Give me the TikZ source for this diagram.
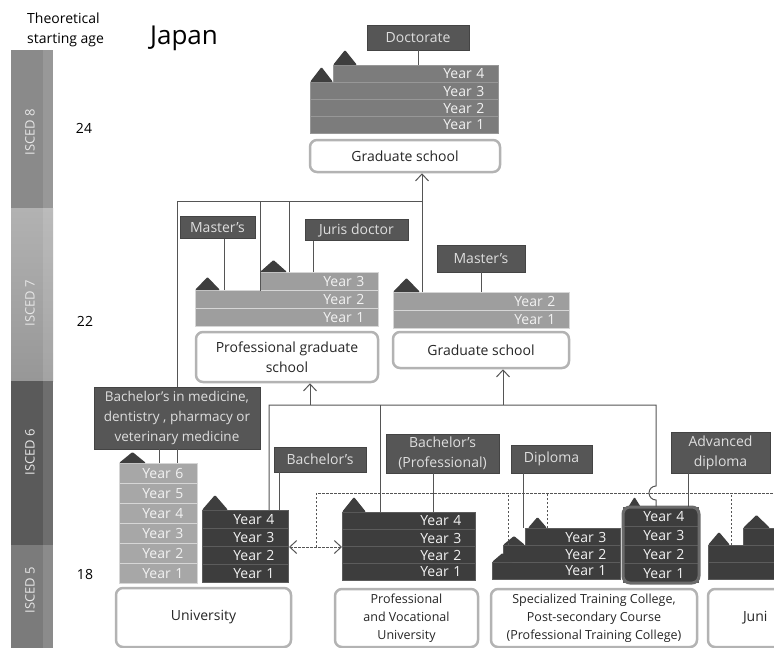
\documentclass[tikz,border=0pt]{standalone}
\usepackage{fontspec}
\setmainfont{Open Sans}
\usetikzlibrary{arrows.meta}

\definecolor{isced8}{HTML}{8A8A8A}
\definecolor{isced7top}{HTML}{B2B2B2}
\definecolor{isced7bot}{HTML}{979797}
\definecolor{isced6}{HTML}{5A5A5A}
\definecolor{isced5}{HTML}{7B7B7B}
\definecolor{bandtext}{HTML}{E6E6E6}
\definecolor{docfill}{HTML}{7C7C7C}
\definecolor{docline}{HTML}{979797}
\definecolor{pgfill}{HTML}{9E9E9E}
\definecolor{pgline}{HTML}{D6D6D6}
\definecolor{medfill}{HTML}{A7A7A7}
\definecolor{darkfill}{HTML}{3D3D3D}
\definecolor{darkline}{HTML}{5C5C5C}
\definecolor{rowtext}{HTML}{F2F2F2}
\definecolor{roofcol}{HTML}{3E3E3E}
\definecolor{degfill}{HTML}{565656}
\definecolor{degline}{HTML}{444444}
\definecolor{degtext}{HTML}{DEDEDE}
\definecolor{boxline}{HTML}{B3B3B3}
\definecolor{advline}{HTML}{6B6B6B}
\definecolor{linecol}{HTML}{555555}

\begin{document}
\begin{tikzpicture}[x=1pt, y=-1pt, font=\fontsize{14}{20}\selectfont,
  yearrow/.style={rectangle, anchor=north west, inner xsep=14pt, inner ysep=0pt, align=right, text=rowtext, line width=1pt},
  docrow/.style={yearrow, fill=docfill, draw=docline, minimum height=17pt},
  pgrow/.style={yearrow, fill=pgfill, draw=pgline, minimum height=18pt},
  medrow/.style={yearrow, fill=medfill, draw=pgline, minimum height=20pt},
  darkrow/.style={yearrow, fill=darkfill, draw=darkline, minimum height=17pt},
  roof/.style={fill=roofcol, rounded corners=1pt},
  degree/.style={fill=degfill, draw=degline, text=degtext, inner sep=0pt, align=center},
  school/.style={fill=white, draw=boxline, line width=2.5pt, rounded corners=7pt, inner sep=0pt, align=center, text=black!85},
  smallschool/.style={school, font=\fontsize{12.5}{18}\selectfont},
  band/.style={rotate=90, text=bandtext, font=\fontsize{13}{15}\selectfont},
  advframe/.style={draw=advline, line width=3pt, rounded corners=7pt},
  link/.style={draw=linecol, line width=1pt},
  dashlink/.style={link, dash pattern=on 2.5pt off 1.5pt},
  arrowup/.style={-{Straight Barb[length=7pt, width=13pt]}},
]
\useasboundingbox (0,0) rectangle (774,648);
\clip (0,0) rectangle (774,648);

% ISCED levels down the left side
\fill[isced8] (11,50) rectangle (53,208);
\fill[top color=isced7top, bottom color=isced7bot] (11,208) rectangle (53,381);
\fill[isced6] (11,381) rectangle (53,545);
\fill[isced5] (11,545) rectangle (53,648);
\fill[white, opacity=0.12] (43,50) rectangle (53,648);
\node[band] (i8) at (30,132) {ISCED 8};
\node[band] (i7) at (30,303) {ISCED 7};
\node[band] (i6) at (30,452) {ISCED 6};
\node[band] (i5) at (30,590) {ISCED 5};

\node[anchor=north west, align=left, inner sep=0pt] (agehead) at (27,13) {Theoretical\\starting age};
\node[font=\fontsize{26}{30}\selectfont] (country) at (184,38) {Japan};
\node (age24) at (84,128) {24};
\node (age22) at (85,321) {22};
\node (age18) at (85,574) {18};

% doctorate
\node[docrow, text width=137pt] (doc4) at (333,65) {Year 4};
\node[docrow, text width=160pt] (doc3) at (310,82) {Year 3};
\node[docrow, text width=160pt] (doc2) at (310,99) {Year 2};
\node[docrow, text width=160pt] (doc1) at (310,116) {Year 1};
\fill[roof] (doc3.north west) -- ++(11.5,-15) -- ++(11.5,15) -- cycle;
\fill[roof] (doc4.north west) -- ++(12,-15) -- ++(12,15) -- cycle;
\node[school, minimum width=190pt, minimum height=32pt] (gradtop) at (405,156) {Graduate school};

% professional graduate school
\node[pgrow, text width=90pt] (pg3) at (260,272) {Year 3};
\node[pgrow, text width=155pt] (pg2) at (195,290) {Year 2};
\node[pgrow, text width=155pt] (pg1) at (195,308) {Year 1};
\fill[roof] (pg2.north west) -- ++(12.5,-13) -- ++(12.5,13) -- cycle;
\fill[roof] (pg3.north west) -- ++(13.5,-12) -- ++(13.5,12) -- cycle;
\node[school, minimum width=182pt, minimum height=50pt] (pgbox) at (287,357) {Professional graduate\\school};

% graduate school
\node[pgrow, text width=148pt] (gs2) at (393,292) {Year 2};
\node[pgrow, text width=148pt] (gs1) at (393,310) {Year 1};
\fill[roof] (gs2.north west) -- ++(13.5,-14) -- ++(13.5,14) -- cycle;
\node[school, minimum width=176pt, minimum height=36pt] (gsbox) at (481,350) {Graduate school};

% university, medicine etc.
\node[medrow, text width=50pt] (med6) at (119,463) {Year 6};
\node[medrow, text width=50pt] (med5) at (119,483) {Year 5};
\node[medrow, text width=50pt] (med4) at (119,503) {Year 4};
\node[medrow, text width=50pt] (med3) at (119,523) {Year 3};
\node[medrow, text width=50pt] (med2) at (119,543) {Year 2};
\node[medrow, text width=50pt] (med1) at (119,563) {Year 1};
\fill[roof] (med6.north west) -- ++(13.5,-11) -- ++(13.5,11) -- cycle;

% university
\node[darkrow, minimum height=18pt, text width=58pt] (uni4) at (202,510) {Year 4};
\node[darkrow, minimum height=18pt, text width=58pt] (uni3) at (202,528) {Year 3};
\node[darkrow, minimum height=18pt, text width=58pt] (uni2) at (202,546) {Year 2};
\node[darkrow, minimum height=18pt, text width=58pt] (uni1) at (202,564) {Year 1};
\fill[roof] (uni4.north west) -- ++(13,-15) -- ++(13,15) -- cycle;
\node[school, minimum width=175pt, minimum height=59pt] (unibox) at (203.5,617.5) {University};

% professional and vocational university
\node[darkrow, text width=105pt] (pv4) at (342,512) {Year 4};
\node[darkrow, text width=105pt] (pv3) at (342,529) {Year 3};
\node[darkrow, text width=105pt] (pv2) at (342,546) {Year 2};
\node[darkrow, text width=105pt] (pv1) at (342,563) {Year 1};
\fill[roof] (pv4.north west) -- ++(12,-15) -- ++(12,15) -- cycle;
\node[smallschool, minimum width=143pt, minimum height=58pt] (pvbox) at (406.5,618) {Professional\\and Vocational\\University};

% specialized training college
\node[darkrow, text width=67pt] (sp3) at (525,528) {Year 3};
\node[darkrow, text width=89pt] (sp2) at (503,545) {Year 2};
\node[darkrow, text width=100pt] (sp1) at (492,562) {Year 1};
\fill[roof] (sp1.north west) -- ++(10.5,-9) -- ++(10.5,9) -- cycle;
\fill[roof] (sp2.north west) -- ++(11,-9) -- ++(11,9) -- cycle;
\fill[roof] ([xshift=3pt]sp3.north west) -- ++(9.5,-11) -- ++(9.5,11) -- cycle;
\fill[roof] (627,509) -- ++(7.5,-12) -- ++(7.5,12) -- cycle;
\node[darkrow, minimum height=18.75pt, text width=47pt] (adv4) at (623,507) {Year 4};
\node[darkrow, minimum height=18.75pt, text width=47pt] (adv3) at (623,525.75) {Year 3};
\node[darkrow, minimum height=18.75pt, text width=47pt] (adv2) at (623,544.5) {Year 2};
\node[darkrow, minimum height=18.75pt, text width=47pt] (adv1) at (623,563.25) {Year 1};
\draw[advframe] (adv4.north west) rectangle (adv1.south east);
\node[smallschool, minimum width=206pt, minimum height=58pt] (spbox) at (594,618) {Specialized Training College,\\Post-secondary Course\\(Professional Training College)};

% junior college
\node[darkrow, text width=40pt] (jc3) at (743,528) {};
\node[darkrow, text width=80pt] (jc2) at (708,545) {};
\node[darkrow, text width=80pt] (jc1) at (708,562) {};
\fill[roof] (jc2.north west) -- ++(11,-13) -- ++(11,13) -- cycle;
\fill[roof] (jc3.north west) -- ++(13.5,-13) -- ++(13.5,13) -- cycle;
\node[school, minimum width=160pt, minimum height=58pt, inner xsep=35pt, text width=90pt, align=left] (junior) at (788,618) {Juni};

% degrees
\node[degree, minimum width=102pt, minimum height=25pt] (doctorate) at (418,37.5) {Doctorate};
\node[degree, minimum width=75pt, minimum height=22pt] (mastpro) at (217.5,227.5) {Master's};
\node[degree, minimum width=103pt, minimum height=21pt] (juris) at (356.5,230) {Juris doctor};
\node[degree, minimum width=88pt, minimum height=27pt] (mastgrad) at (481,258.5) {Master's};
\node[degree, minimum width=166pt, minimum height=62pt, font=\fontsize{13.5}{20}\selectfont] (medlabel) at (177,418) {Bachelor's in medicine,\\dentistry , pharmacy or\\veterinary medicine};
\node[degree, minimum width=92pt, minimum height=25pt] (bachelor) at (320,459.5) {Bachelor's};
\node[degree, minimum width=113pt, minimum height=39pt] (bachpro) at (442.5,453.5) {Bachelor's\\(Professional)};
\node[degree, minimum width=81pt, minimum height=28pt] (diploma) at (551.5,459) {Diploma};
\node[degree, minimum width=99pt, minimum height=41pt] (advdip) at (720.5,452.5) {Advanced\\diploma};

\draw[link] (doctorate.south) -- (doctorate.south |- doc4.north);
\draw[link] ([xshift=7pt]mastpro.south) -- ([xshift=7pt]mastpro.south |- pg2.north);
\draw[link] ([xshift=9pt]juris.south west) -- ([xshift=9pt]juris.south west |- pg3.north);
\draw[link] (mastgrad.south) -- (mastgrad.south |- gs2.north);
\draw[link] (medlabel.south) -- (medlabel.south |- med6.north);
\draw[link] ([xshift=-18pt]medlabel.south) -- ([xshift=-18pt]medlabel.south |- med6.north);
\draw[link] ([xshift=6pt]bachelor.south west) -- ([xshift=6pt]bachelor.south west |- uni4.north);
\draw[link] ([xshift=-9pt]bachpro.south) -- ([xshift=-9pt]bachpro.south |- pv4.north);
\draw[link] ([xshift=13pt]diploma.south west) -- ([xshift=13pt]diploma.south west |- sp3.north);
\draw[link] ([xshift=18pt]advdip.south west) -- ([xshift=18pt]advdip.south west |- adv4.north);

% routes up to graduate level
\coordinate (tl) at (177,201);
\coordinate (tr) at (422,201);
\coordinate (ml) at (269,405);
\coordinate (mr) at (656,405);
\coordinate (hop) at (656,486);
\coordinate (pgin) at (310,405);
\coordinate (gsin) at (503,405);
\coordinate (dk) at (316,493);
\coordinate (de) at (780,493);
\draw[link] (medlabel.north) -- (tl) -- (tr) -- (tr |- gs2.north);
\draw[link] (pg3.south west) -- (pg3.south west |- tl);
\draw[link] ([xshift=29pt]pg3.north west) -- ([xshift=29pt]pg3.north west |- tl);
\draw[link, arrowup] (tr) -- (tr |- gradtop.south);
\draw[link] (ml |- uni4.north) -- (ml) -- (mr) -- (hop) arc[start angle=90, end angle=270, radius=7pt] -- (mr |- adv4.north);
\draw[link] ([xshift=38pt]pv4.north west) -- ([xshift=38pt]pv4.north west |- ml);
\draw[link, arrowup] (pgin) -- (pgin |- pgbox.south);
\draw[link, arrowup] (gsin) -- (gsin |- gsbox.south);

% transfer between colleges
\draw[dashlink, {Straight Barb[length=7pt, width=13pt]}-{Straight Barb[length=7pt, width=13pt]}] (uni3.south east) -- (pv3.south west);
\draw[dashlink] (dk |- uni3.south) -- (dk) -- (de);
\draw[dashlink] ([xshift=5pt]sp2.north west) -- ([xshift=5pt]sp2.north west |- dk);
\draw[dashlink] ([xshift=22pt]sp3.north west) -- ([xshift=22pt]sp3.north west |- dk);
\draw[dashlink] ([xshift=23pt]jc2.north west) -- ([xshift=23pt]jc2.north west |- dk);
\end{tikzpicture}
\end{document}
